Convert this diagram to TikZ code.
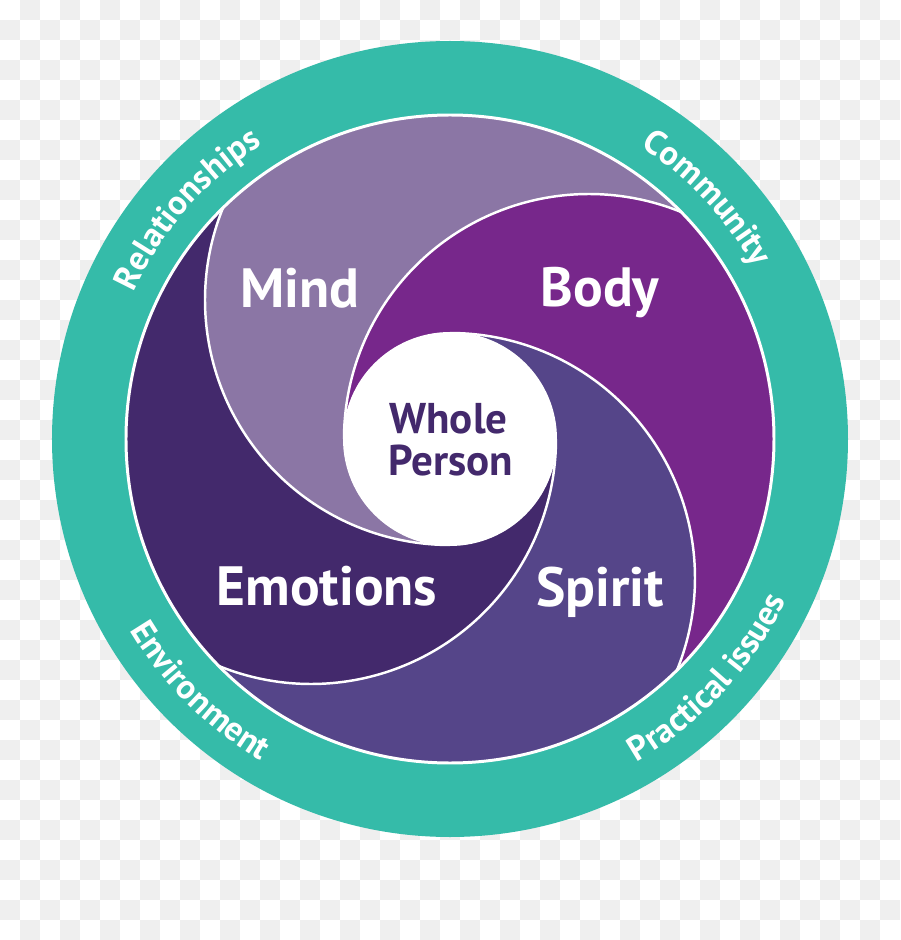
\documentclass[tikz,border=0pt]{standalone}
\usepackage{fontspec}
\setmainfont{PT Sans}
\usepackage{xcolor}
\usetikzlibrary{decorations.text}

\definecolor{ringteal}{HTML}{35BBA9}
\definecolor{mindc}{HTML}{8B76A5}
\definecolor{bodyc}{HTML}{77278B}
\definecolor{spiritc}{HTML}{554589}
\definecolor{emoc}{HTML}{43296C}
\definecolor{checker}{HTML}{EFEFEF}

\tikzset{
  blade/.style={white, line width=1.4pt},
  petal/.style={text=white, font=\bfseries\fontsize{31.5}{36}\selectfont, anchor=base},
  centre/.style={text=emoc, font=\bfseries\fontsize{24.5}{28}\selectfont, anchor=base},
  ringlabel/.style={decorate, decoration={text along path, text align=center,
      text color=white, text={|\bfseries\fontsize{19.5}{22}\selectfont|#1}}}
}

\begin{document}
\begin{tikzpicture}[x=0.02cm, y=0.02cm]
    \useasboundingbox (-450,-501) rectangle (450,439);

    % Checkered background
    \fill[white] (-450,-501) rectangle (450,439);
    \foreach \j in {0,...,46}
      \foreach \i in {0,...,44}
        {\ifodd\numexpr\i+\j\relax \fill[checker] (20*\i-450, 439-20*\j) rectangle ++(20,-20); \fi}

    % Outer ring
    \fill[ringteal] (0,0) circle[radius=398];

    % Swirl blades
    \foreach \col [count=\k from 0] in {bodyc, spiritc, emoc, mindc}
      \fill[\col, rotate=-90*\k] (180:106) arc[start angle=180, end angle=67.9, radius=245]
        arc[start angle=44.47, end angle=-45.53, radius=324]
        arc[start angle=-22.1, end angle=90, radius=245]
        arc[start angle=90, end angle=180, radius=106] -- cycle;

    % White separators
    \draw[white, line width=1.7pt] (0,0) circle[radius=324];
    \foreach \k in {0,...,3}
      \draw[blade, rotate=-90*\k] (180:106) arc[start angle=180, end angle=67.9, radius=245];

    % Centre
    \fill[white] (0,0) circle[radius=107];

    % Text
    \node[petal] (mind) at (-150,131) {Mind};
    \node[petal] (body) at (150,132) {Body};
    \node[petal] (emotions) at (-123,-166) {Emotions};
    \node[petal] (spirit) at (150,-167) {Spirit};
    \node[centre] (whole) at (-1.5,6) {Whole};
    \node[centre] (person) at (1,-36) {Person};

    % Ring labels
    \path[ringlabel=Relationships] (178.8:349) arc[start angle=178.8, end angle=98.8, radius=349];
    \path[ringlabel=Community] (83.1:349) arc[start angle=83.1, end angle=3.1, radius=349];
    \path[ringlabel=Environment] (185.2:373) arc[start angle=185.2, end angle=265.2, radius=373];
    \path[ringlabel=Practical issues] (-82.8:373) arc[start angle=-82.8, end angle=-2.8, radius=373];
\end{tikzpicture}
\end{document}
